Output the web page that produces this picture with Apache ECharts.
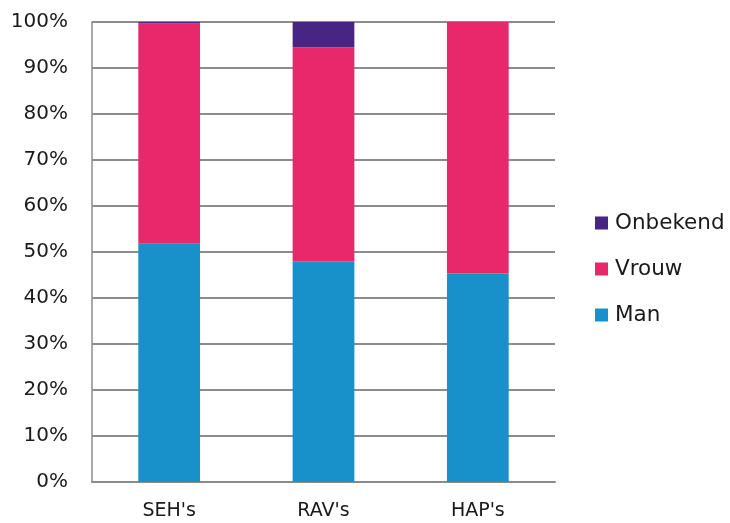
<!DOCTYPE html>
<html><head><meta charset="utf-8">
<script src="https://cdn.jsdelivr.net/npm/echarts@6/dist/echarts.min.js"></script>
<style>html,body{margin:0;padding:0;background:#fff}#c{width:730px;height:523px}</style>
</head><body><div id="c"></div>
<script>
const categories = ["SEH's", "RAV's", "HAP's"];
const man = [51.8, 48.0, 45.3];
const vrouw = [47.9, 46.5, 54.7];
const onbekend = [0.3, 5.5, 0];
const yTicks = [0,10,20,30,40,50,60,70,80,90,100];

const chart = echarts.init(document.getElementById('c'), null, {renderer:'canvas'});
const font = 'DejaVu Sans';
chart.setOption({
  animation: false,
  grid: {left: 92, right: 175, top: 22, bottom: 41, containLabel: false},
  legend: {
    orient: 'vertical', left: 590, top: 207, itemGap: 24,
    itemWidth: 13, itemHeight: 13, icon: 'rect',
    data: ['Onbekend', 'Vrouw', 'Man'],
    textStyle: {fontFamily: font, fontSize: 21.5, color: '#1a1a1a', padding: [0,0,0,2]}
  },
  xAxis: {
    type: 'category', data: categories,
    axisLine: {show: true, lineStyle: {color: '#8c8c8c', width: 2}},
    axisTick: {show: false},
    axisLabel: {fontFamily: font, fontSize: 19, color: '#1a1a1a', margin: 20}
  },
  yAxis: {
    type: 'value', min: 0, max: 100, interval: 10,
    axisLine: {show: true, lineStyle: {color: '#8c8c8c', width: 1.5}},
    axisTick: {show: false},
    splitLine: {show: true, lineStyle: {color: '#8c8c8c', width: 2}},
    axisLabel: {fontFamily: font, fontSize: 20, color: '#1a1a1a', margin: 24,
      formatter: v => yTicks.includes(v) ? v + '%' : ''}
  },
  series: [
    {name: 'Man', type: 'bar', stack: 's', data: man, barWidth: '40%', itemStyle: {color: '#1890C9'}},
    {name: 'Vrouw', type: 'bar', stack: 's', data: vrouw, itemStyle: {color: '#E8286A'}},
    {name: 'Onbekend', type: 'bar', stack: 's', data: onbekend, itemStyle: {color: '#472583'}}
  ]
});
</script></body></html>
